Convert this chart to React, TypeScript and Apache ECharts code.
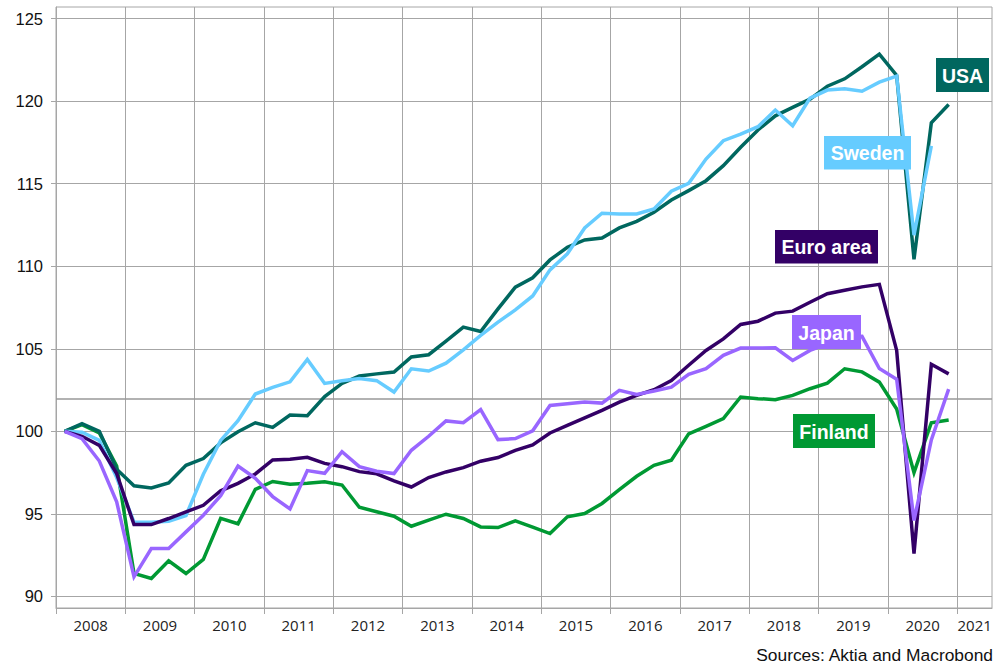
import React, { useEffect, useRef } from "react";
import * as echarts from "echarts";

const START_YEAR = 2008;
const yearTicks = [2008, 2009, 2010, 2011, 2012, 2013, 2014, 2015, 2016, 2017, 2018, 2019, 2020, 2021];
const yearLabelPos = [2008.5, 2009.5, 2010.5, 2011.5, 2012.5, 2013.5, 2014.5, 2015.5, 2016.5, 2017.5, 2018.5, 2019.5, 2020.5, 2021.25];
const yTicks = [90, 95, 100, 105, 110, 115, 120, 125];

// Quarterly index, 2008Q1 = 100 (2008Q1 .. 2020Q4)
const usa = [
  100.0, 100.46, 100.0, 97.7, 96.7, 96.57, 96.87, 97.94, 98.35, 99.3,
  99.98, 100.52, 100.24, 100.99, 100.95, 102.1, 102.9, 103.35, 103.48, 103.59,
  104.5, 104.64, 105.46, 106.31, 106.05, 107.42, 108.73, 109.3, 110.38, 111.15,
  111.59, 111.71, 112.32, 112.72, 113.27, 114.01, 114.58, 115.18, 116.09, 117.2,
  118.25, 119.11, 119.62, 120.12, 120.9, 121.35, 122.08, 122.85, 121.56, 110.42,
  118.69, 119.79,
];
const sweden = [
  100.0, 99.95, 99.45, 97.2, 94.5, 94.5, 94.55, 94.9, 97.4, 99.45,
  100.65, 102.26, 102.66, 103.0, 104.35, 102.9, 103.06, 103.2, 103.07, 102.38,
  103.79, 103.65, 104.13, 104.94, 105.81, 106.61, 107.36, 108.2, 109.78, 110.75,
  112.32, 113.21, 113.17, 113.17, 113.47, 114.54, 115.02, 116.49, 117.6, 118.0,
  118.45, 119.46, 118.51, 120.18, 120.67, 120.75, 120.6, 121.15, 121.52, 111.88,
  117.29,
];
const euroArea = [
  100.0, 99.7, 99.15, 97.44, 94.35, 94.35, 94.72, 95.12, 95.52, 96.4,
  96.85, 97.42, 98.27, 98.31, 98.43, 98.06, 97.86, 97.56, 97.43, 97.0,
  96.63, 97.2, 97.54, 97.8, 98.19, 98.41, 98.85, 99.18, 99.9, 100.36,
  100.81, 101.27, 101.77, 102.18, 102.52, 103.08, 104.0, 104.9, 105.6, 106.47,
  106.67, 107.16, 107.28, 107.82, 108.33, 108.54, 108.75, 108.9, 104.9, 92.6,
  104.06, 103.48,
];
const japan = [
  100.0, 99.56, 98.2, 95.73, 91.19, 92.9, 92.9, 93.91, 94.92, 96.1,
  97.9, 97.16, 96.05, 95.3, 97.62, 97.46, 98.77, 97.86, 97.58, 97.44,
  98.85, 99.7, 100.63, 100.52, 101.31, 99.5, 99.56, 100.03, 101.57, 101.67,
  101.77, 101.71, 102.48, 102.24, 102.44, 102.68, 103.45, 103.79, 104.6, 105.04,
  105.04, 105.06, 104.29, 104.9, 105.3, 105.7, 105.75, 103.8, 103.15, 94.6,
  99.48, 102.56,
];
const finland = [
  100.0, 100.4, 99.9, 97.9, 91.39, 91.09, 92.16, 91.39, 92.24, 94.73,
  94.4, 96.49, 96.96, 96.79, 96.85, 96.94, 96.75, 95.4, 95.13, 94.86,
  94.25, 94.62, 94.98, 94.72, 94.21, 94.17, 94.58, 94.2, 93.81, 94.82,
  95.02, 95.63, 96.47, 97.28, 97.94, 98.25, 99.85, 100.3, 100.77, 102.08,
  101.98, 101.92, 102.18, 102.58, 102.92, 103.79, 103.6, 102.98, 101.35, 97.5,
  100.52, 100.69,
];
const referenceLevel = 102;

const COLORS = {
  usa: "#00675F",
  sweden: "#66CCFF",
  euro: "#330066",
  japan: "#9966FF",
  finland: "#009933",
};

const quarterTime = (i: number) => START_YEAR + 0.125 + 0.25 * i;
const toPairs = (vals: number[]) => vals.map((v, i) => [quarterTime(i), v]);

const GRID_COLOR = "#a6a6a6";

function labelBox(text: string, color: string, x: number, y: number, w: number, h: number) {
  return {
    type: "group",
    children: [
      { type: "rect", shape: { x, y, width: w, height: h }, style: { fill: color }, z: 100 },
      {
        type: "text",
        x: x + w / 2,
        y: y + h / 2 + 0.5,
        z: 101,
        style: {
          text,
          fill: "#ffffff",
          font: "bold 19.5px 'Liberation Sans', Arial, sans-serif",
          textAlign: "center",
          textVerticalAlign: "middle",
        },
      },
    ],
  };
}

export default function App() {
  const ref = useRef<HTMLDivElement>(null);
  useEffect(() => {
    if (!ref.current) return;
    const chart = echarts.init(ref.current, undefined, { renderer: "svg" });
    const mkSeries = (name: string, vals: number[], color: string, z: number, extra: any = {}) => ({
      type: "line",
      name,
      data: toPairs(vals),
      symbol: "none",
      showSymbol: false,
      z,
      lineStyle: { color, width: 3.5, join: "miter" },
      itemStyle: { color },
      ...extra,
    });
    chart.setOption({
      animation: false,
      backgroundColor: "#ffffff",
      grid: {
        left: 56,
        right: 5,
        top: 7,
        bottom: 58,
        show: true,
        borderColor: GRID_COLOR,
        borderWidth: 1,
        backgroundColor: "transparent",
      },
      xAxis: {
        type: "value",
        min: 2008,
        max: 2021.5,
        axisLine: { show: true, onZero: false, lineStyle: { color: GRID_COLOR, width: 1 } },
        axisTick: { show: true, length: 6, customValues: yearTicks, lineStyle: { color: GRID_COLOR } },
        splitLine: { show: true, lineStyle: { color: GRID_COLOR, width: 1 } },
        axisLabel: {
          customValues: yearLabelPos,
          formatter: (v: number) => String(Math.floor(v)),
          color: "#222222",
          fontFamily: "'Open Sans', sans-serif",
          fontSize: 15,
          margin: 9,
        },
      },
      yAxis: {
        type: "value",
        min: 89.3,
        max: 125.7,
        axisLine: { show: true, lineStyle: { color: GRID_COLOR, width: 1 } },
        axisTick: { show: true, length: 5, customValues: yTicks, lineStyle: { color: GRID_COLOR } },
        splitLine: { show: true, lineStyle: { color: GRID_COLOR, width: 1 } },
        axisLabel: {
          customValues: yTicks,
          color: "#111111",
          fontFamily: "'Liberation Sans', Arial, sans-serif",
          fontSize: 16.5,
          margin: 13,
        },
      },
      series: [
        mkSeries("Finland", finland, COLORS.finland, 2, {
          markLine: {
            silent: true,
            symbol: "none",
            label: { show: false },
            lineStyle: { color: "#999999", width: 1.6, type: "solid" },
            data: [{ yAxis: referenceLevel }],
            z: 1,
          },
        }),
        mkSeries("USA", usa, COLORS.usa, 3),
        mkSeries("Sweden", sweden, COLORS.sweden, 4),
        mkSeries("Euro area", euroArea, COLORS.euro, 5),
        mkSeries("Japan", japan, COLORS.japan, 6),
      ],
      graphic: [
        labelBox("USA", COLORS.usa, 936, 58, 53, 34),
        labelBox("Sweden", COLORS.sweden, 824, 136, 87, 33.5),
        labelBox("Euro area", COLORS.euro, 775, 230, 103, 33.5),
        labelBox("Japan", COLORS.japan, 792, 315, 69, 34),
        labelBox("Finland", COLORS.finland, 793, 414, 82, 34),
        {
          type: "text",
          right: 3,
          top: 646,
          style: {
            text: "Sources: Aktia and Macrobond",
            fill: "#111111",
            font: "17.4px 'Liberation Sans', Arial, sans-serif",
          },
        },
      ],
    });
    return () => chart.dispose();
  }, []);
  return (
    <div
      ref={ref}
      style={{ position: "fixed", left: 0, top: 0, width: 997, height: 666, background: "#fff" }}
    />
  );
}
